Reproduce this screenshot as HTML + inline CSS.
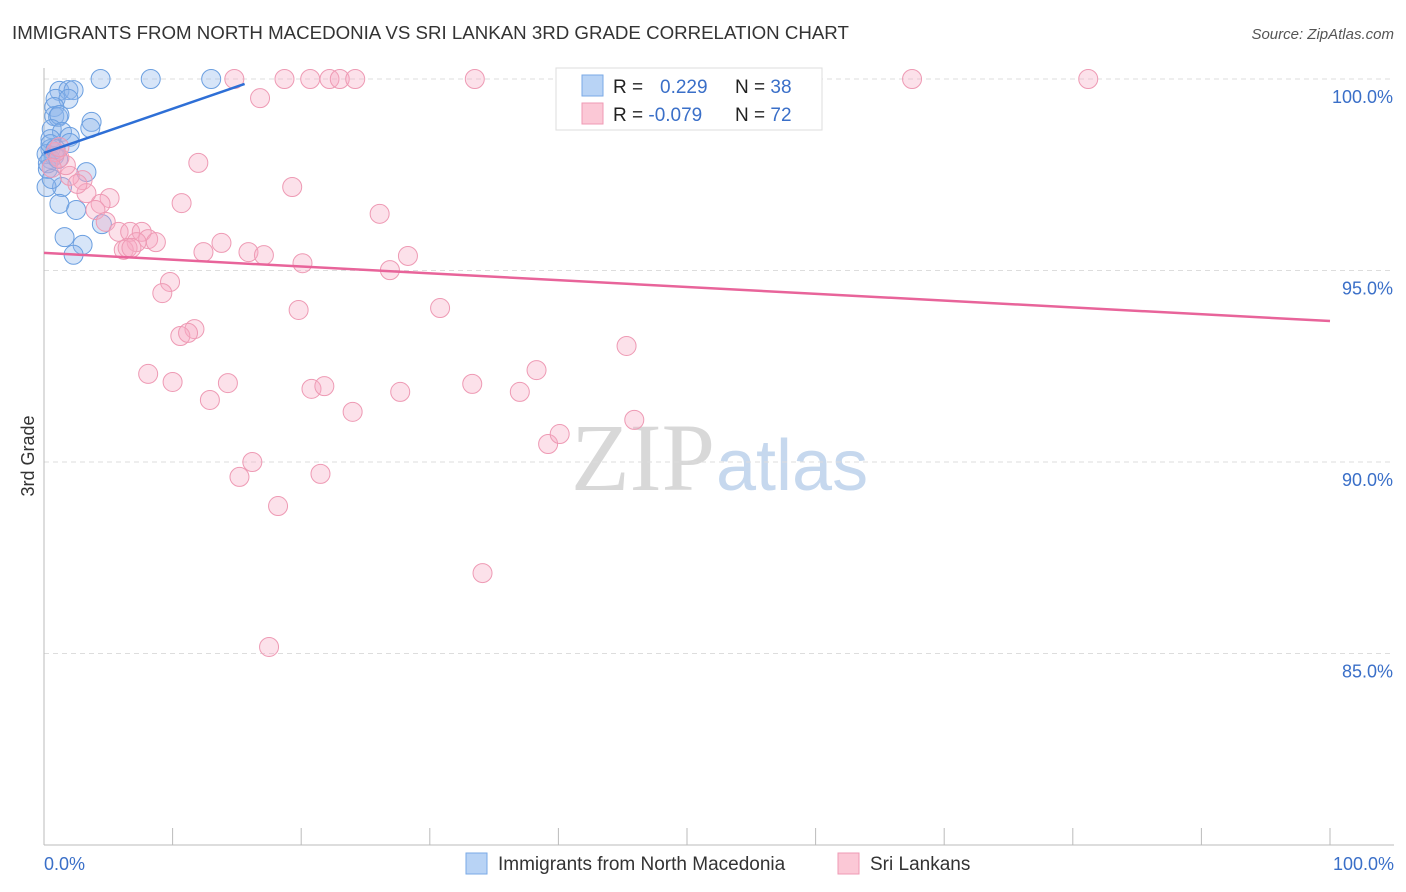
<!DOCTYPE html>
<html><head><meta charset="utf-8">
<style>
body{margin:0;background:#fff;font-family:"Liberation Sans",sans-serif;}
#wrap{position:relative;width:1406px;height:892px;overflow:hidden;}
</style></head>
<body>
<div id="wrap">
<svg id="chart" width="1406" height="892" xmlns="http://www.w3.org/2000/svg">
<text x="12" y="39" font-size="18.7" fill="#333">IMMIGRANTS FROM NORTH MACEDONIA VS SRI LANKAN 3RD GRADE CORRELATION CHART</text>
<text x="1394" y="39" font-size="15" fill="#555" font-style="italic" text-anchor="end">Source: ZipAtlas.com</text>
<text x="34" y="456" font-size="18" fill="#333" text-anchor="middle" transform="rotate(-90 34 456)">3rd Grade</text>
<text x="715" y="490" font-size="96" fill="#d8d8d8" text-anchor="end" font-family="Liberation Serif,serif">ZIP</text>
<text x="716" y="490" font-size="72" fill="#c6d8ee">atlas</text>
<g id="grid"></g><g id="axes"></g><g id="pts"></g><g id="lines"></g>
<g>
<rect x="556" y="68" width="266" height="62" fill="#fff" stroke="#ddd"/>
<rect x="582" y="75" width="21" height="21" fill="#b8d3f5" stroke="#7aa9e6"/>
<rect x="582" y="103" width="21" height="21" fill="#fbc8d6" stroke="#ef9ab4"/>
<text x="613" y="93" font-size="19" fill="#222">R = <tspan fill="#3a6fc8" x="660">0.229</tspan></text>
<text x="735" y="93" font-size="19" fill="#222">N = <tspan fill="#3a6fc8">38</tspan></text>
<text x="613" y="121" font-size="19" fill="#222">R = <tspan fill="#3a6fc8">-0.079</tspan></text>
<text x="735" y="121" font-size="19" fill="#222">N = <tspan fill="#3a6fc8">72</tspan></text>
</g>
<g>
<rect x="466" y="853" width="21" height="21" fill="#b8d3f5" stroke="#7aa9e6"/>
<text x="498" y="870" font-size="19" fill="#333">Immigrants from North Macedonia</text>
<rect x="838" y="853" width="21" height="21" fill="#fbc8d6" stroke="#ef9ab4"/>
<text x="870" y="870" font-size="19" fill="#333">Sri Lankans</text>
</g>
</svg>
</div>
<script>
const yTicks=[100,95,90,85];
const yTickLabels=["100.0%","95.0%","90.0%","85.0%"];
const xTickLabels=["0.0%","100.0%"];
const blueX=[4.4,8.3,13,1.2,1.9,2.3,0.9,1.9,0.8,0.8,1.1,1.2,3.7,3.6,0.6,1.4,2.0,0.5,2.0,0.5,0.2,0.8,0.5,0.3,3.3,1.4,0.2,1.2,2.5,4.5,1.6,3.0,2.3,0.5,0.3,0.9,0.6,1.1];
const blueY=[100,100,100,99.69,99.71,99.71,99.48,99.48,99.27,99.03,99.01,99.06,98.88,98.72,98.69,98.62,98.49,98.43,98.33,98.17,98.04,97.99,97.91,97.65,97.57,97.18,97.18,96.74,96.58,96.21,95.87,95.67,95.41,98.3,97.8,98.17,97.39,97.91];
const pinkX=[14.8,18.7,20.7,22.2,23.0,24.2,33.5,41.7,67.5,81.2,16.8,12.0,19.3,10.7,26.1,5.1,4.4,4.0,3.0,3.3,2.0,1.7,1.2,0.9,0.6,2.6,4.8,5.8,6.7,7.6,8.1,8.7,7.2,6.2,6.5,12.4,13.8,15.9,17.1,20.1,26.9,28.3,9.8,9.2,19.8,30.8,11.7,10.6,11.2,45.3,8.1,10.0,14.3,12.9,20.8,21.8,27.7,33.3,37.0,38.3,24.0,45.9,39.2,40.1,16.2,15.2,21.5,18.2,34.1,17.5,6.8,1.2];
const pinkY=[100,100,100,100,100,100,100,100,100,100,99.50,97.81,97.18,96.76,96.48,96.89,96.74,96.58,97.36,97.02,97.47,97.75,97.94,98.09,97.68,97.26,96.27,96.01,96.01,96.01,95.82,95.74,95.74,95.54,95.59,95.48,95.72,95.48,95.40,95.19,95.01,95.38,94.70,94.41,93.97,94.02,93.47,93.29,93.37,93.03,92.30,92.09,92.06,91.62,91.91,91.98,91.83,92.04,91.83,92.40,91.31,91.10,90.47,90.73,90.00,89.61,89.69,88.85,87.10,85.17,95.59,98.22];
const blueTrendX=[0,15.6], blueTrendY=[98.07,99.87];
const pinkTrendX=[0,100], pinkTrendY=[95.46,93.68];
const NS="http://www.w3.org/2000/svg";
const X0=44,X1=1330,YT=79,YB=845;
const xs=v=>X0+(X1-X0)*v/100;
const ys=v=>YT+(100-v)*(YB-YT)/20;
function mk(parent,tag,attrs){const e=document.createElementNS(NS,tag);for(const k in attrs)e.setAttribute(k,attrs[k]);document.getElementById(parent).appendChild(e);return e;}
yTicks.forEach((t,i)=>{
 const l=mk('grid','line',{x1:X0,x2:1394,y1:ys(t),y2:ys(t),stroke:'#ddd','stroke-dasharray':'5,4'});
 
 
 const tx=mk('grid','text',{x:1393,y:ys(t)+24,'font-size':18,fill:'#3a6fc8','text-anchor':'end'});
 tx.textContent=yTickLabels[i];
 
 
});
const ax=mk('axes','line',{x1:X0,x2:X0,y1:68,y2:YB,stroke:'#bbb'});


const bx=mk('axes','line',{x1:X0,x2:1394,y1:YB,y2:YB,stroke:'#bbb'});


for(let i=0;i<=10;i++){
 const t=mk('axes','line',{x1:xs(i*10),x2:xs(i*10),y1:828,y2:YB,stroke:'#bbb'});
 
 
}
[[0,'start',X0],[100,'end',1394]].forEach((d,i)=>{
 const t=mk('axes','text',{x:d[2],y:870,'font-size':18,fill:'#3a6fc8','text-anchor':d[1]});
 t.textContent=xTickLabels[i];
 
 
});
blueX.forEach((v,i)=>{
 const c=mk('pts','circle',{cx:xs(v),cy:ys(blueY[i]),r:9.5,fill:'rgba(140,180,235,0.35)',stroke:'#6b9fe0','stroke-width':1});
 
 
});
pinkX.forEach((v,i)=>{
 const c=mk('pts','circle',{cx:xs(v),cy:ys(pinkY[i]),r:9.5,fill:'rgba(247,170,195,0.35)',stroke:'#ee9ab4','stroke-width':1});
 
 
});
const bl=mk('lines','line',{x1:xs(blueTrendX[0]),y1:ys(blueTrendY[0]),x2:xs(blueTrendX[1]),y2:ys(blueTrendY[1]),stroke:'#2e6fd6','stroke-width':2.5});


const pl=mk('lines','line',{x1:xs(pinkTrendX[0]),y1:ys(pinkTrendY[0]),x2:xs(pinkTrendX[1]),y2:ys(pinkTrendY[1]),stroke:'#e8649a','stroke-width':2.5});


</script>
</body></html>
